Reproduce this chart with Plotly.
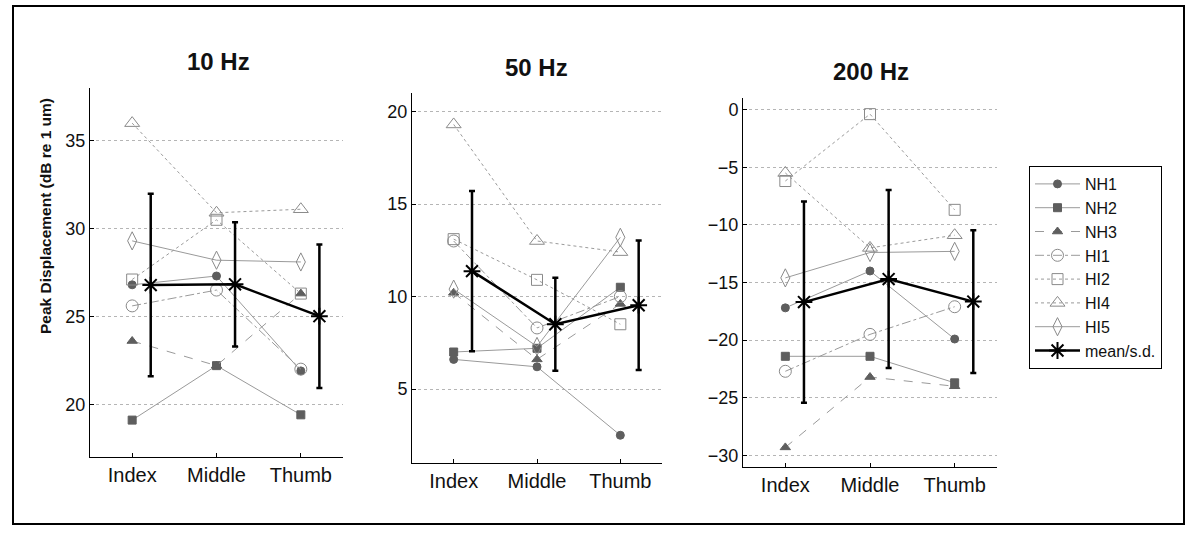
import numpy as np
import plotly.graph_objects as go

W, H = 1189, 536

# Finger sites and subjects
fingers = ["Index", "Middle", "Thumb"]
subjects = ["NH1", "NH2", "NH3", "HI1", "HI2", "HI4", "HI5"]
panel_titles = ["10 Hz", "50 Hz", "200 Hz"]

# Peak displacement (dB re 1 um) per subject, at Index / Middle / Thumb
hz10_NH1 = [26.8, 27.3, 21.9]
hz10_NH2 = [19.1, 22.2, 19.4]
hz10_NH3 = [23.6, 22.2, 26.3]
hz10_HI1 = [25.6, 26.5, 22.0]
hz10_HI2 = [27.1, 30.5, 26.3]
hz10_HI4 = [36.0, 30.9, 31.1]
hz10_HI5 = [29.3, 28.2, 28.1]

hz50_NH1 = [6.6, 6.2, 2.5]
hz50_NH2 = [7.0, 7.2, 10.5]
hz50_NH3 = [10.2, 6.6, 9.6]
hz50_HI1 = [13.0, 8.3, 10.0]
hz50_HI2 = [13.1, 10.9, 8.5]
hz50_HI4 = [19.3, 13.0, 12.4]
hz50_HI5 = [10.4, 7.3, 13.2]

hz200_NH1 = [-17.2, -14.0, -19.9]
hz200_NH2 = [-21.4, -21.4, -23.7]
hz200_NH3 = [-29.3, -23.2, -24.0]
hz200_HI1 = [-22.7, -19.5, -17.1]
hz200_HI2 = [-6.2, -0.4, -8.7]
hz200_HI4 = [-5.5, -12.0, -10.9]
hz200_HI5 = [-14.6, -12.4, -12.3]

# Axis ranges and ticks per panel
y_ranges = [[17, 38], [1, 21], [-31, 1]]
y_ticks = [[20, 25, 30, 35], [5, 10, 15, 20], [-30, -25, -20, -15, -10, -5, 0]]

panels = [
    [hz10_NH1, hz10_NH2, hz10_NH3, hz10_HI1, hz10_HI2, hz10_HI4, hz10_HI5],
    [hz50_NH1, hz50_NH2, hz50_NH3, hz50_HI1, hz50_HI2, hz50_HI4, hz50_HI5],
    [hz200_NH1, hz200_NH2, hz200_NH3, hz200_HI1, hz200_HI2, hz200_HI4, hz200_HI5],
]

# Marker / line style for each subject
styles = {
    "NH1": dict(symbol="circle", size=8, filled=True, dash="solid"),
    "NH2": dict(symbol="square", size=8, filled=True, dash="solid"),
    "NH3": dict(symbol="triangle-up", size=9, filled=True, dash="dash"),
    "HI1": dict(symbol="circle-open", size=12, filled=False, dash="dashdot"),
    "HI2": dict(symbol="square-open", size=11, filled=False, dash="dot"),
    "HI4": dict(symbol="triangle-up-open", size=13, filled=False, dash="dot"),
    "HI5": dict(symbol="diamond-tall-open", size=13, filled=False, dash="solid"),
}

# Plot-area boxes in pixels: (left, right, top, bottom)
boxes = [(90, 343, 88, 457), (412, 662, 93, 463), (743, 997, 98, 467)]
title_pos = [(218, 61), (536, 67), (871, 71)]

MEAN_OFFSET = 0.22
FONT = "Liberation Sans, Arial"
xpos = np.arange(1, len(fingers) + 1)

fig = go.Figure()
layout = dict()

for p, (vals, box) in enumerate(zip(panels, boxes)):
    xa = "x" if p == 0 else f"x{p + 1}"
    ya = "y" if p == 0 else f"y{p + 1}"
    for name, v in zip(subjects, vals):
        st = styles[name]
        mcol = "#5e5e5e" if st["filled"] else "#8a8a8a"
        fig.add_trace(go.Scatter(
            x=xpos, y=v, name=name, mode="lines+markers",
            xaxis=xa, yaxis=ya, legendgroup=name, showlegend=(p == 0),
            line=dict(color="#9a9a9a", width=1, dash=st["dash"]),
            marker=dict(symbol=st["symbol"], size=st["size"], color=mcol,
                        line=dict(color=mcol, width=1)),
        ))
    arr = np.array(vals)
    mean = arr.mean(axis=0)
    sd = arr.std(axis=0, ddof=1)
    fig.add_trace(go.Scatter(
        x=xpos + MEAN_OFFSET, y=mean, name="mean/s.d.", mode="lines+markers",
        xaxis=xa, yaxis=ya, legendgroup="mean", showlegend=(p == 0),
        line=dict(color="black", width=2.5),
        marker=dict(symbol="asterisk-open", size=14, color="black",
                    line=dict(color="black", width=2)),
        error_y=dict(type="data", array=sd, visible=True, color="black",
                     thickness=2.5, width=3),
    ))

    l, r, t, b = box
    suffix = "" if p == 0 else str(p + 1)
    layout["xaxis" + suffix] = dict(
        domain=[l / W, r / W], anchor=ya, range=[0.5, 3.5],
        tickvals=xpos, ticktext=fingers, ticks="inside", ticklen=4,
        tickcolor="black", showline=True, linecolor="black", linewidth=1,
        showgrid=False, zeroline=False,
        tickfont=dict(family=FONT, size=20, color="#111"),
    )
    layout["yaxis" + suffix] = dict(
        domain=[1 - b / H, 1 - t / H], anchor=xa, range=y_ranges[p],
        tickvals=y_ticks[p], ticks="inside", ticklen=4, tickcolor="black",
        showline=True, linecolor="black", linewidth=1,
        showgrid=True, gridcolor="#b5b5b5", griddash="dot", gridwidth=1,
        zeroline=False,
        tickfont=dict(family=FONT, size=18, color="#111"),
    )

annotations = []
for (tx, ty), txt in zip(title_pos, panel_titles):
    annotations.append(dict(
        x=tx / W, y=1 - ty / H, xref="paper", yref="paper", text=f"<b>{txt}</b>",
        showarrow=False, xanchor="center", yanchor="middle",
        font=dict(family=FONT, size=24, color="#111"),
    ))
annotations.append(dict(
    x=45 / W, y=1 - 216 / H, xref="paper", yref="paper",
    text="<b>Peak Displacement (dB re 1 um)</b>", textangle=-90,
    showarrow=False, xanchor="center", yanchor="middle",
    font=dict(family=FONT, size=15.5, color="#111"),
))

fig.update_layout(
    width=W, height=H, margin=dict(l=0, r=0, t=0, b=0),
    plot_bgcolor="white", paper_bgcolor="white",
    annotations=annotations,
    legend=dict(
        x=1029 / W, y=1 - 166 / H, xanchor="left", yanchor="top",
        bordercolor="black", borderwidth=1, bgcolor="white",
        tracegroupgap=0, traceorder="grouped", itemwidth=45,
        font=dict(family=FONT, size=16, color="#111"),
    ),
    shapes=[dict(type="rect", xref="paper", yref="paper",
                 x0=13 / W, x1=1184 / W, y0=1 - 524 / H, y1=1 - 6 / H,
                 line=dict(color="black", width=2))],
    **layout,
)

fig.write_html("out.html")
